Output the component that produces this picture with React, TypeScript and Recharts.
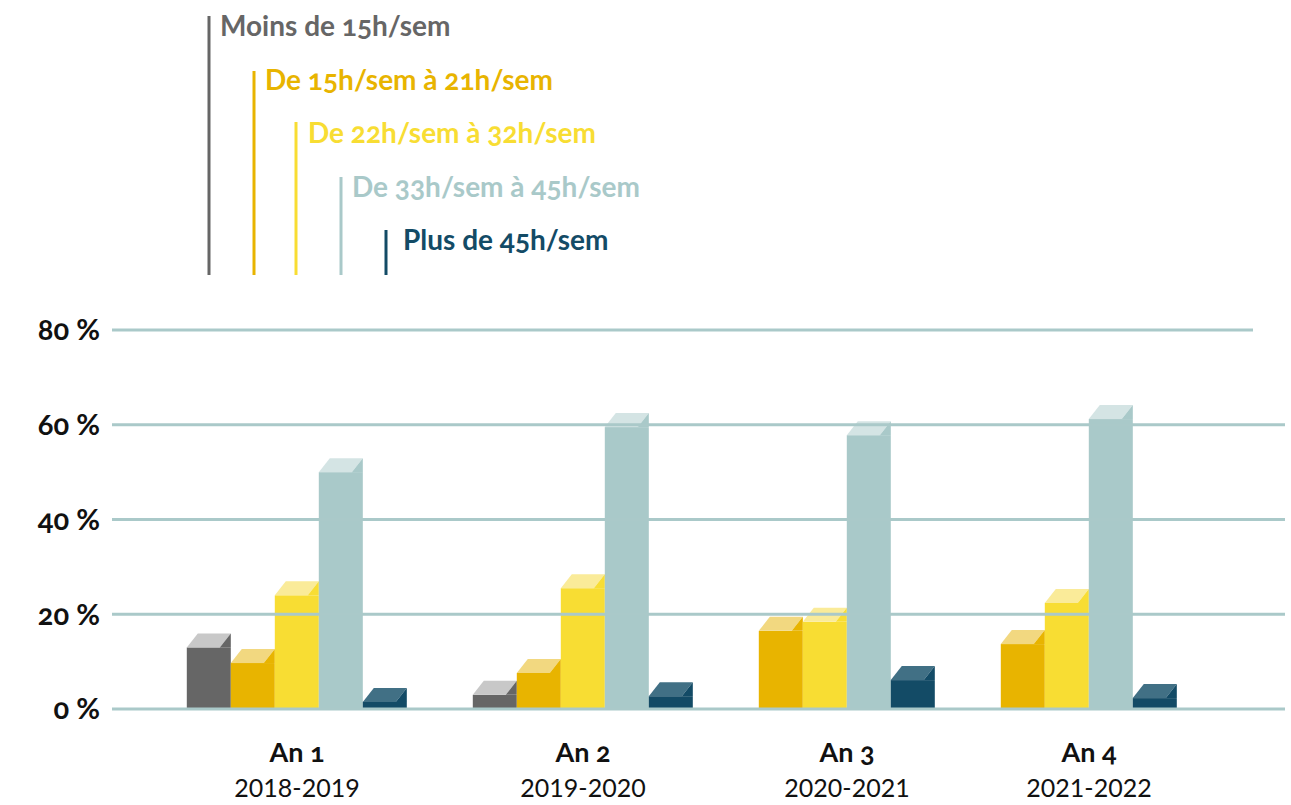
import React from "react";
import { ComposedChart, Bar, XAxis, YAxis, ReferenceLine } from "recharts";

// data
const groups = ["An 1", "An 2", "An 3", "An 4"];
const years = ["2018-2019", "2019-2020", "2020-2021", "2021-2022"];
const seriesNames = [
  "Moins de 15h/sem",
  "De 15h/sem à 21h/sem",
  "De 22h/sem à 32h/sem",
  "De 33h/sem à 45h/sem",
  "Plus de 45h/sem",
];
const moins15 = [13, 3, null, null];
const de15a21 = [9.7, 7.6, 16.5, 13.7];
const de22a32 = [24, 25.5, 18.4, 22.4];
const de33a45 = [50, 59.5, 57.8, 61.2];
const plus45 = [1.5, 2.7, 6.1, 2.3];
const yTicks = [0, 20, 40, 60, 80];

const SERIES = [moins15, de15a21, de22a32, de33a45, plus45];
const BODY = ["#666666", "#e8b400", "#f8dd33", "#a9c9c9", "#134b66"];
const TOP = ["#c8c8c8", "#f2d880", "#faeb99", "#d4e4e4", "#417085"];
const GRID = "#aac9c9";

// bars sit side by side, missing values are skipped, groups are 1.5 bars apart
const GROUP_GAP = 1.5;
const bars: { pos: number; value: number; series: number }[] = [];
const groupCenters: number[] = [];
let cursor = 0;
groups.forEach((_, gi) => {
  const start = cursor;
  SERIES.forEach((s, si) => {
    const v = s[gi];
    if (v == null) return;
    bars.push({ pos: cursor + 0.5, value: v, series: si });
    cursor += 1;
  });
  groupCenters.push((start + cursor) / 2);
  cursor += GROUP_GAP;
});

const X_MIN = -75 / 44;
const X_MAX = 1098 / 44;
const X_TOP_LINE_END = 1066 / 44;

const FONT = "Lato, 'Open Sans', sans-serif";
const BAR_W = 44;

const Bar3D = (props: any) => {
  const { x, y, width, height, payload } = props;
  if (!height || height <= 0) return null;
  const si = payload.series;
  // recharts shrinks a bar that fills its whole band, so draw it at full width around its centre
  const w = BAR_W;
  const left = x + width / 2 - w / 2;
  const d = 11;
  const h = 14;
  return (
    <g>
      <rect x={left} y={y} width={w} height={height} fill={BODY[si]} />
      <polygon
        points={`${left},${y} ${left + d},${y - h} ${left + w},${y - h} ${left + w - d},${y}`}
        fill={TOP[si]}
      />
      <polygon points={`${left + w - d},${y} ${left + w},${y - h} ${left + w},${y}`} fill={BODY[si]} />
    </g>
  );
};

const GroupTick = (props: any) => {
  const { x, payload } = props;
  const i = groupCenters.indexOf(payload.value);
  if (i < 0) return null;
  return (
    <g>
      <text x={x} y={762} textAnchor="middle" fontSize={27} fontWeight={700} fill="#111" fontFamily={FONT}>
        {groups[i]}
      </text>
      <text
        x={x}
        y={797}
        textAnchor="middle"
        fontSize={25}
        fontWeight={400}
        fill="#111"
        fontFamily={FONT}
        style={{ fontFeatureSettings: '"lnum"' }}
      >
        {years[i]}
      </text>
    </g>
  );
};

const LEGEND_X = [209, 254, 296, 341, 386];
const LEGEND_TOP = [16, 71, 122, 177, 230];
const LEGEND_BASE = [36, 90, 143, 197, 250];
const LEGEND_TEXT_DX = [11, 11, 12, 11, 17];

const LegendBlock = () => (
  <svg width={720} height={290} style={{ position: "absolute", left: 0, top: 0 }}>
    {seriesNames.map((name, i) => (
      <g key={name}>
        <line x1={LEGEND_X[i]} x2={LEGEND_X[i]} y1={LEGEND_TOP[i]} y2={275} stroke={BODY[i]} strokeWidth={3} />
        <text
          x={LEGEND_X[i] + LEGEND_TEXT_DX[i]}
          y={LEGEND_BASE[i]}
          fontSize={28}
          fontWeight={700}
          fill={BODY[i]}
          fontFamily={FONT}
        >
          {name}
        </text>
      </g>
    ))}
  </svg>
);

export default function App() {
  return (
    <div
      style={{
        position: "absolute",
        left: 0,
        top: 0,
        width: 1291,
        height: 805,
        background: "#fff",
        fontFamily: FONT,
        fontFeatureSettings: '"onum"',
      }}
    >
      <ComposedChart width={1291} height={805} data={bars} margin={{ top: 330, right: 6, bottom: 0, left: 0 }}>
        <XAxis
          type="number"
          dataKey="pos"
          domain={[X_MIN, X_MAX]}
          allowDataOverflow
          ticks={groupCenters}
          interval={0}
          tick={<GroupTick />}
          tickLine={false}
          axisLine={false}
          height={96}
        />
        <YAxis
          type="number"
          domain={[0, 80]}
          ticks={yTicks}
          width={112}
          tickLine={false}
          axisLine={false}
          tickMargin={6}
          tickFormatter={(v: number) => `${v} %`}
          tick={{ fontSize: 29, fontWeight: 700, fill: "#111", fontFamily: FONT }}
        />
        {yTicks.slice(0, 4).map((v) => (
          <ReferenceLine key={v} y={v} stroke={GRID} strokeWidth={3} />
        ))}
        <ReferenceLine
          segment={[
            { x: X_MIN, y: 80 },
            { x: X_TOP_LINE_END, y: 80 },
          ]}
          stroke={GRID}
          strokeWidth={3}
        />
        <Bar dataKey="value" barSize={44} shape={<Bar3D />} isAnimationActive={false} />
      </ComposedChart>
      <LegendBlock />
    </div>
  );
}
